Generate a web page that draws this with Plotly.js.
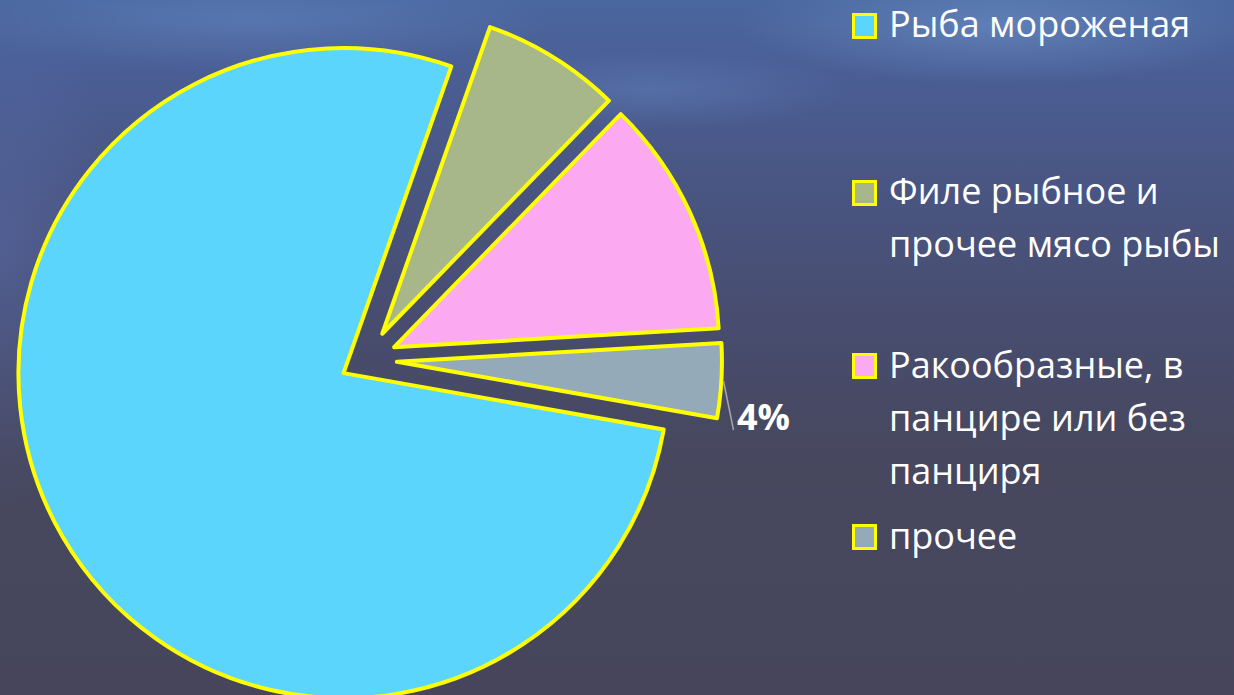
<!DOCTYPE html>
<html>
<head>
<meta charset="utf-8">
<script src="https://cdn.plot.ly/plotly-3.0.1.min.js"></script>
<style>
html,body{margin:0;padding:0;overflow:hidden;width:1234px;height:695px;}
#wrap{position:relative;width:1234px;height:695px;overflow:hidden;
  background:
    radial-gradient(ellipse 260px 60px at 1000px 25px, rgba(120,160,215,0.45), rgba(120,160,215,0) 100%),
    radial-gradient(ellipse 300px 50px at 250px 20px, rgba(110,150,210,0.35), rgba(110,150,210,0) 100%),
    radial-gradient(ellipse 200px 40px at 650px 90px, rgba(110,150,210,0.30), rgba(110,150,210,0) 100%),
    radial-gradient(ellipse 120px 260px at 0px 250px, rgba(90,110,175,0.45), rgba(90,110,175,0) 100%),
    linear-gradient(to bottom, #4a67a0 0%, #4a5d93 12%, #495581 28%, #484d70 45%, #47485f 65%, #46455c 100%);}
#chart{position:absolute;left:0;top:0;width:1234px;height:716px;}
</style>
</head>
<body>
<div id="wrap"><div id="chart"></div></div>
<script>
// ---- data ----
const categories = ["Рыба мороженая", "Филе рыбное и прочее мясо рыбы", "Ракообразные, в панцире или без панциря", "прочее"];
const shares = [77.6, 6.9, 11.8, 3.7];
const sliceColors = ["#5CD5FC", "#A8B78A", "#FBA9F1", "#94AAB8"];
const legendLines = [
  ["Рыба мороженая"],
  ["Филе рыбное и", "прочее мясо рыбы"],
  ["Ракообразные, в", "панцире или без", "панциря"],
  ["прочее"]
];
const labelledSlice = 3;

// ---- layout helpers ----
const W = 1234, H = 716, T = 4, PH = 712;
const px = x => x / W;
const py = y => 1 - (y - T) / PH;

const pulls = shares.map((v, i) => i === 0 ? 0.08 : 0.095);

const trace = {
  type: 'pie',
  labels: categories,
  values: shares,
  sort: false,
  direction: 'clockwise',
  rotation: 100,
  pull: pulls,
  marker: {colors: sliceColors, line: {color: '#FFFF00', width: 4}},
  textinfo: 'none',
  hoverinfo: 'none',
  showlegend: false,
  domain: {x: [10 / W, 722 / W], y: [0, 1]}
};

const annotations = [];
const shapes = [];
const itemBaselines = [38, 205, 378, 549];
const lineStep = 53;
const legendFont = {family: 'Open Sans, Noto Sans, sans-serif', size: 36, color: '#FFFFFF'};

legendLines.forEach((lines, i) => {
  const b0 = itemBaselines[i];
  shapes.push({
    type: 'rect', xref: 'paper', yref: 'paper',
    x0: px(853.5), x1: px(875.5), y0: py(b0 - 23.5), y1: py(b0 - 0.5),
    line: {color: '#FFFF00', width: 3}, fillcolor: sliceColors[i], layer: 'above'
  });
  lines.forEach((t, j) => {
    const base = b0 + j * lineStep;
    annotations.push({
      xref: 'paper', yref: 'paper', x: px(887), y: py(base - 14),
      xanchor: 'left', yanchor: 'middle', showarrow: false,
      text: t, font: legendFont
    });
  });
});

// percent label for the small slice
const total = shares.reduce((a, b) => a + b, 0);
const pctText = Math.round(shares[labelledSlice] / total * 100) + '%';
annotations.push({
  xref: 'paper', yref: 'paper', x: px(763.5), y: py(416),
  xanchor: 'center', yanchor: 'middle', showarrow: false,
  text: '<b>' + pctText + '</b>',
  font: {family: 'Open Sans, Noto Sans, sans-serif', size: 36, color: '#FFFFFF'}
});
shapes.push({
  type: 'line', xref: 'paper', yref: 'paper',
  x0: px(723.5), y0: py(381), x1: px(733.5), y1: py(430),
  line: {color: '#A6A6A6', width: 1.5}
});

const layout = {
  width: W, height: H,
  margin: {l: 0, r: 0, t: T, b: 0, pad: 0},
  paper_bgcolor: 'rgba(0,0,0,0)',
  plot_bgcolor: 'rgba(0,0,0,0)',
  showlegend: false,
  annotations: annotations,
  shapes: shapes
};

Plotly.newPlot('chart', [trace], layout, {displayModeBar: false, staticPlot: true});
</script>
</body>
</html>
